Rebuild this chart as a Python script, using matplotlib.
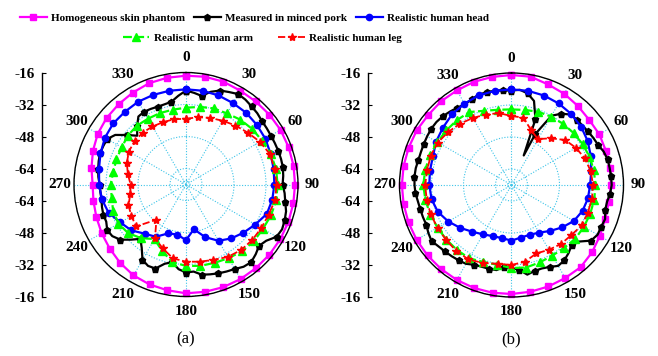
import numpy as np
import matplotlib
matplotlib.use("Agg")
import matplotlib.pyplot as plt

plt.rcParams['font.family'] = ['Liberation Serif', 'DejaVu Serif']
plt.rcParams['font.weight'] = 'bold'

# ---------------- data (dB) ----------------
angles10 = np.arange(0, 360, 10)          # degrees for the 10-degree series
angles5 = np.arange(0, 360, 5)            # degrees for measured (pork) series

labels = ["Homogeneous skin phantom", "Measured in minced pork",
          "Realistic human head", "Realistic human arm", "Realistic human leg"]

# panel (a)
skin_a = [-17.6, -17.3, -17.3, -17.8, -17.8, -17.6, -17.4, -17.4, -17.4, -17.5, -17.5, -17.5,
          -17.5, -17.5, -17.5, -17.4, -17.4, -17.5, -17.6, -18.3, -18.8, -19.5, -20.8, -22.2,
          -23.3, -24.3, -25.0, -25.3, -24.0, -22.5, -21.1, -20.2, -19.6, -18.9, -18.1, -17.8]
pork_a = [-25.0, -26.0, -27.0, -24.0, -22.0, -21.0, -19.8, -20.2, -21.0, -21.6, -22.5, -22.8,
          -23.0, -23.0, -22.9, -22.8, -22.8, -23.2, -23.7, -22.5, -21.6, -20.2, -19.5, -19.0,
          -19.7, -23.0, -24.3, -22.7, -21.3, -21.8, -23.2, -24.0, -24.7, -25.5, -26.2, -28.3,
          -28.0, -29.5, -32.5, -31.0, -27.3, -27.1, -28.5, -33.4, -36.5, -33.0, -29.1, -27.0,
          -26.5, -28.0, -28.0, -28.5, -29.1, -29.0, -28.8, -28.0, -27.4, -26.8, -26.3, -26.4,
          -26.5, -28.8, -33.5, -37.5, -34.0, -30.5, -30.0, -30.3, -30.6, -30.5, -30.0, -27.5]
head_a = [-24.4, -24.4, -24.6, -25.0, -25.2, -25.7, -26.2, -27.0, -27.5, -27.8, -28.2, -29.0,
          -32.0, -34.5, -36.8, -39.5, -44.0, -49.3, -44.2, -46.6, -46.0, -41.8, -39.9, -36.3,
          -34.1, -30.8, -29.3, -28.6, -27.8, -26.5, -25.2, -24.5, -24.5, -24.2, -24.3, -24.4]
arm_a = [-33.6, -32.6, -31.5, -31.0, -29.7, -28.8, -28.1, -27.0, -26.3, -26.2, -26.2, -26.8,
         -27.6, -27.8, -28.4, -29.5, -30.3, -30.7, -31.3, -32.6, -36.8, -40.5, -37.0, -34.2,
         -33.0, -33.2, -34.3, -34.3, -35.1, -35.0, -34.9, -34.0, -33.7, -34.0, -34.0, -34.0]
leg_a = [-39.2, -37.8, -36.6, -35.2, -33.5, -31.7, -29.3, -27.4, -27.0, -26.7, -26.8, -28.0,
         -28.5, -28.8, -29.2, -30.2, -31.9, -32.8, -33.4, -34.5, -38.0, -41.0, -49.0, -39.4,
         -40.5, -41.4, -43.7, -44.3, -42.5, -40.5, -39.0, -38.4, -38.2, -38.5, -38.8, -38.8]

# panel (b)
skin_b = [-17.0, -17.0, -18.5, -19.3, -20.4, -21.3, -21.3, -21.8, -22.0, -22.2, -22.6, -22.2,
          -21.0, -19.5, -18.3, -18.3, -18.0, -17.8, -17.5, -17.3, -17.2, -17.2, -17.2, -17.2,
          -17.2, -17.2, -17.2, -17.2, -17.2, -17.3, -17.3, -17.6, -17.3, -17.4, -17.1, -17.1]
pork_b_theta = [0, 5, 10, 15, 20, 22.5, 25, 30, 35, 40, 45, 50, 55, 60, 65, 70, 75, 80, 85, 90,
                95, 100, 105, 110, 115, 120, 125, 130, 135, 140, 145, 150, 155, 160, 165, 170,
                175, 180, 185, 190, 195, 200, 205, 210, 215, 220, 225, 230, 235, 240, 245, 250,
                255, 260, 265, 270, 275, 280, 285, 290, 295, 300, 305, 310, 315, 320, 325, 330,
                335, 340, 345, 350, 355]
pork_b = [-24.8, -24.2, -25.5, -28.5, -37.0, -56.0, -44.0, -32.0, -28.5, -26.0, -25.8, -25.7,
          -25.3, -24.8, -24.3, -23.0, -22.3, -22.2, -22.0, -21.9, -22.5, -23.5, -23.5, -22.2,
          -22.5, -22.3, -23.5, -28.0, -29.5, -27.6, -26.0, -25.3, -26.8, -27.6, -27.5, -26.5,
          -29.5, -30.5, -31.0, -28.8, -28.6, -28.5, -28.0, -26.5, -26.0, -25.5, -25.0, -24.3,
          -23.2, -24.0, -25.0, -24.9, -24.8, -24.5, -23.8, -23.5, -23.3, -23.4, -23.8, -23.8,
          -23.6, -23.3, -23.0, -23.0, -23.4, -24.1, -24.8, -25.4, -24.8, -23.9, -24.0, -24.1,
          -24.5]
head_b = [-24.2, -24.2, -24.4, -24.9, -25.6, -26.6, -28.0, -29.8, -31.5, -32.7, -33.2, -34.2,
          -36.0, -39.0, -42.0, -44.5, -45.5, -45.3, -44.2, -45.0, -44.8, -43.5, -41.5, -38.6,
          -35.5, -32.8, -31.4, -30.9, -30.6, -30.2, -28.5, -27.3, -25.8, -25.0, -24.3, -24.2]
arm_b = [-34.2, -33.9, -33.0, -32.5, -32.0, -31.5, -31.0, -30.5, -30.2, -30.0, -30.0, -30.1,
         -30.2, -30.3, -31.0, -31.2, -30.8, -30.1, -30.5, -31.5, -31.0, -29.7, -29.6, -29.5,
         -29.3, -28.8, -28.3, -27.9, -28.2, -28.6, -29.2, -29.5, -29.6, -29.9, -32.5, -33.8]
leg_b = [-37.5, -37.8, -43.0, -45.5, -41.5, -37.0, -34.8, -33.0, -31.8, -31.2, -31.2, -31.4,
         -31.5, -33.0, -33.5, -34.6, -35.6, -33.1, -32.0, -32.0, -30.5, -29.0, -29.0, -29.3,
         -29.3, -29.0, -29.0, -28.8, -29.2, -29.0, -29.5, -30.7, -32.0, -33.3, -34.5, -35.5]

ring_ticks = [-70, -64, -48, -32, -16]
theta_ticks = np.arange(0, 360, 30)
ylab_vals = [-16, -32, -48, -64, -64, -48, -32, -16]   # top to bottom

# ---------------- styles ----------------
styles = [
    dict(color='#ff00ff', marker='s', ms=4.5, ls='-', lw=1.6, every=1),
    dict(color='black', marker='p', ms=5.0, ls='-', lw=1.6, every=2),
    dict(color='#0000ff', marker='o', ms=4.5, ls='-', lw=1.6, every=1),
    dict(color='#00ff00', marker='^', ms=5.5, ls=(0, (4, 1.5)), lw=1.6, every=1),
    dict(color='#ff0000', marker='*', ms=6.0, ls=(0, (4, 1.5)), lw=1.3, every=1),
]

fig = plt.figure(figsize=(6.58, 3.56), dpi=100)
W, H = 658.0, 356.0
R = 112.0
grid_color = '#3cc4e8'


def closed(theta_deg, vals):
    t = np.deg2rad(np.append(np.asarray(theta_deg, float), 360.0))
    v = np.append(np.asarray(vals, float), vals[0])
    return t, v


def panel(cx, cy, yaxis_x, series, caption):
    ax = fig.add_axes([(cx - R) / W, 1 - (cy + R) / H, 2 * R / W, 2 * R / H],
                      projection='polar')
    ax.set_theta_zero_location('N')
    ax.set_theta_direction(-1)
    handles = []
    for (th, vals), st, lab in zip(series, styles, labels):
        t, v = closed(th, vals)
        h, = ax.plot(t, v, color=st['color'], marker=st['marker'], ms=st['ms'],
                     ls=st['ls'], lw=st['lw'], markevery=st['every'], label=lab,
                     clip_on=False)
        handles.append(h)
    ax.set_ylim(-72, -16)
    ax.set_rgrids(ring_ticks, labels=[''] * len(ring_ticks))
    ax.set_thetagrids(theta_ticks, labels=[str(a) for a in theta_ticks])
    ax.grid(True, color=grid_color, ls=(0, (1, 1.5)), lw=0.8)
    ax.tick_params(axis='x', labelsize=11, pad=3.5, direction='in', length=4, width=0.8)
    for lab in ax.get_xticklabels():
        lab.set_fontweight('bold')
    ax.spines['polar'].set_linewidth(1.0)
    ax.spines['polar'].set_color('black')
    ax.set_facecolor('none')

    # side radial scale
    yax = fig.add_axes([yaxis_x / W, 1 - (cy + R) / H, 0.0001, 2 * R / H])
    yax.set_ylim(-56, 56)
    yax.set_yticks([56, 40, 24, 8, -8, -24, -40, -56])
    yax.set_yticklabels([str(v) for v in ylab_vals])
    yax.set_xticks([])
    for s in ['top', 'right', 'bottom']:
        yax.spines[s].set_visible(False)
    yax.spines['left'].set_linewidth(1.0)
    yax.tick_params(axis='y', direction='in', length=3, labelsize=11, pad=5)
    for lab in yax.get_yticklabels():
        lab.set_fontweight('bold')
    yax.patch.set_visible(False)

    fig.text(cx / W, 1 - 339 / H, caption, ha='center', va='center',
             fontsize=12, fontweight='normal')
    return handles


series_a = [(angles10, skin_a), (angles5, pork_a), (angles10, head_a),
            (angles10, arm_a), (angles10, leg_a)]
series_b = [(angles10, skin_b), (pork_b_theta, pork_b), (angles10, head_b),
            (angles10, arm_b), (angles10, leg_b)]

hs = panel(186, 184.5, 42, series_a, '(a)')
panel(511.5, 185, 368, series_b, '(b)')

leg_kw = dict(loc='center', frameon=False, prop={'family': 'Liberation Serif',
              'weight': 'bold', 'size': 8.0}, handlelength=2.4, handletextpad=0.4,
              borderpad=0, borderaxespad=0)
fig.legend(hs[:3], labels[:3], ncol=3, columnspacing=0.8,
           bbox_to_anchor=(254.5 / W, 1 - 18 / H), **leg_kw)
fig.legend(hs[3:], labels[3:], ncol=2, columnspacing=2.3,
           bbox_to_anchor=(262.5 / W, 1 - 38 / H), **leg_kw)

fig.savefig('out.png', dpi=100)
